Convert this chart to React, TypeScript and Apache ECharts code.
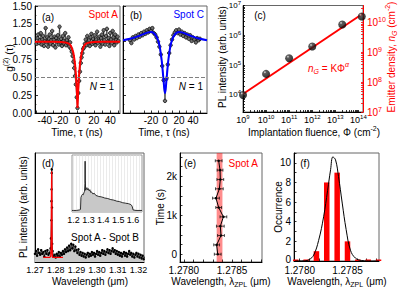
import React, { useEffect, useRef } from "react";
import * as echarts from "echarts";

const FONT = '"Liberation Sans", Arial, Helvetica, sans-serif';
const RED = "#ff0000";
const BLUE = "#0000ff";

// ---------- (a) g2, Spot A ----------
const aTauStart = -50; // ns, 1 ns bins
const aG2 = [
  0.97, 1.05, 1.1, 0.98, 1.02, 1.12, 0.96, 1.03, 1.08, 0.94,
  1.01, 1.19, 0.99, 1.06, 0.93, 1.04, 1.1, 0.97, 1.02, 1.15,
  0.95, 1.03, 1.07, 0.92, 1.05, 1.0, 1.09, 0.96, 1.21, 0.99,
  1.04, 0.94, 1.08, 1.01, 0.97, 1.12, 0.95, 1.02, 0.98, 1.06,
  0.93, 0.99, 0.9, 0.86, 0.8, 0.72, 0.63, 0.52, 0.4, 0.22,
  0.07,
  0.28, 0.45, 0.58, 0.7, 0.78, 0.84, 0.9, 0.92, 0.97, 1.03,
  0.95, 1.08, 0.99, 1.02, 0.94, 1.06, 1.11, 0.97, 1.04, 0.99,
  1.09, 0.95, 1.03, 1.14, 0.98, 1.01, 1.07, 0.93, 1.05, 1.1,
  0.97, 1.16, 1.02, 0.96, 1.08, 1.18, 1.0, 1.05, 0.94, 1.12,
  1.03, 0.98, 1.15, 1.06, 0.95, 1.1, 1.02, 0.99, 1.07, 1.01,
];
const aFitTau = [-52, -30, -20, -15, -12, -10, -8, -6, -5, -4, -3, -2, -1.5, -1, -0.5, 0, 0.5, 1, 1.5, 2, 3, 4, 5, 6, 8, 10, 12, 15, 20, 30, 52];
const aFitG2 = [1.0, 1.0, 0.995, 0.99, 0.98, 0.97, 0.94, 0.88, 0.84, 0.77, 0.68, 0.55, 0.46, 0.35, 0.22, 0.07, 0.22, 0.35, 0.46, 0.55, 0.68, 0.77, 0.84, 0.88, 0.94, 0.97, 0.98, 0.99, 0.995, 1.0, 1.0];

// ---------- (b) g2, Spot C ----------
const bTauStart = -50;
const bTauStep = 2;
const bG2 = [
  1.02, 0.98, 1.06, 1.03, 1.08, 1.05, 1.1, 1.07, 1.12, 1.09,
  1.14, 1.11, 1.16, 1.13, 1.18, 1.15, 1.19, 1.12, 1.1, 1.06,
  1.0, 0.93, 0.82, 0.66, 0.46,
  0.17,
  0.48, 0.68, 0.84, 0.95, 1.03, 1.09, 1.13, 1.16, 1.12, 1.17,
  1.1, 1.14, 1.08, 1.12, 1.06, 1.1, 1.04, 1.09, 1.01, 1.06,
  1.03, 0.99, 1.05, 1.02, 1.04,
];
const bFitTau = [-60, -50, -40, -30, -24, -20, -16, -12, -9, -7, -5, -4, -3, -2, -1, 0, 1, 2, 3, 4, 5, 7, 9, 12, 16, 20, 24, 30, 40, 50, 60];
const bFitG2 = [1.02, 1.04, 1.07, 1.11, 1.13, 1.135, 1.12, 1.07, 0.99, 0.9, 0.76, 0.67, 0.56, 0.45, 0.34, 0.28, 0.34, 0.45, 0.56, 0.67, 0.76, 0.9, 0.99, 1.07, 1.12, 1.135, 1.13, 1.11, 1.07, 1.04, 1.02];

// ---------- (c) PL vs fluence ----------
const cFluence = [1e9, 1e10, 1e11, 1e12, 2e13, 1.4e14];
const cPL = [1.0e4, 5.1e4, 1.7e5, 4.2e5, 2.3e6, 4.3e6];
const cFitFluence = [1e9, 1.585e14];
const cFitDensity = [4e7, 2e10];

// ---------- (d) spectrum Spot A - Spot B ----------
const dStart = 1.27;
const dStep = 0.0005;
const dIntensity = [
  0.09, 0.12, 0.07, 0.14, 0.1, 0.08, 0.13, 0.09, 0.11, 0.06,
  0.12, 0.09, 0.13, 0.08, 0.1, 0.15, 0.8, 0.12, 0.06, 0.08,
  0.05, 0.09, 0.07, 0.11, 0.06, 0.1, 0.08, 0.12, 0.09, 0.14,
  0.11, 0.16, 0.12, 0.18, 0.13, 0.2, 0.15, 0.19, 0.12, 0.17,
  0.13, 0.1, 0.14, 0.08, 0.11, 0.07, 0.1, 0.06, 0.09, 0.05,
  0.08, 0.1, 0.06, 0.09, 0.07, 0.11, 0.08, 0.1, 0.06, 0.09,
  0.12, 0.08, 0.11, 0.07, 0.1, 0.13, 0.09, 0.12, 0.08, 0.11,
  0.14, 0.1, 0.13, 0.09, 0.12, 0.15, 0.11, 0.13, 0.09, 0.12,
  0.08, 0.11, 0.07, 0.1, 0.06, 0.09, 0.11, 0.07, 0.1, 0.06,
  0.09, 0.12, 0.08, 0.1, 0.06, 0.09, 0.05, 0.08, 0.1, 0.06,
  0.09, 0.05, 0.08, 0.04, 0.07, 0.03, 0.06,
];
const dPeakLambda = [1.2777, 1.2779, 1.27795, 1.27805, 1.2781, 1.2782, 1.2783];
const dPeakIntensity = [0.26, 0.46, 0.67, 0.98, 1.02, 0.6, 0.2];
const dFitLambda = [1.274, 1.277, 1.2776, 1.2778, 1.2779, 1.278, 1.27805, 1.2781, 1.27815, 1.2782, 1.2783, 1.2785, 1.2835];
const dFitIntensity = [0.05, 0.05, 0.06, 0.15, 0.45, 0.85, 1.0, 0.95, 0.7, 0.35, 0.1, 0.05, 0.05];

// inset
const insetLambda = [1.19, 1.2, 1.22, 1.24, 1.247, 1.25, 1.255, 1.26, 1.265, 1.27, 1.274, 1.277, 1.278, 1.279, 1.282, 1.286, 1.29, 1.295, 1.3, 1.305, 1.31, 1.315, 1.32, 1.33, 1.34, 1.35, 1.37, 1.39, 1.41, 1.43, 1.45, 1.47, 1.49, 1.51, 1.53, 1.55, 1.57, 1.58, 1.59, 1.595, 1.6, 1.62, 1.66];
const insetIntensity = [0.03, 0.03, 0.03, 0.04, 0.05, 0.28, 0.32, 0.34, 0.33, 0.37, 0.4, 0.55, 0.98, 0.6, 0.42, 0.45, 0.47, 0.43, 0.45, 0.41, 0.43, 0.38, 0.39, 0.35, 0.36, 0.32, 0.3, 0.29, 0.27, 0.26, 0.24, 0.23, 0.21, 0.2, 0.18, 0.17, 0.16, 0.15, 0.13, 0.1, 0.04, 0.03, 0.03];

// ---------- (e) ZPL vs time ----------
const eTime = [0, 240, 480, 720, 960, 1200, 1440, 1680, 1920, 2160, 2400];
const eLambda = [1.278351, 1.27834, 1.278385, 1.278378, 1.27841, 1.278361, 1.278333, 1.278368, 1.278378, 1.278375, 1.278361];
const eErr = [0.000035, 0.00003, 0.000035, 0.00004, 0.000035, 0.00003, 0.000035, 0.00004, 0.000035, 0.00003, 0.000035];
const eBand = [1.27834, 1.2784];
const eCenter = 1.27837;

// ---------- (f) histogram ----------
const fLambda = [1.277958, 1.278067, 1.278175, 1.278283, 1.278392, 1.2785, 1.278608, 1.278717, 1.278825];
const fCount = [0, 0, 1, 8, 9, 2, 0, 0, 0];
const fFitLambda = [1.27795, 1.27805, 1.2781, 1.278146, 1.278198, 1.27825, 1.278292, 1.278323, 1.278347, 1.278375, 1.278406, 1.278445, 1.278486, 1.278531, 1.278583, 1.27865, 1.27875, 1.27883];
const fFitCount = [0, 0.02, 0.15, 0.6, 2.1, 4.5, 7.2, 9.3, 10.6, 10.3, 8.6, 5.9, 3.2, 1.1, 0.3, 0.05, 0, 0];

// ---------- helpers ----------
function axis(o: any): any {
  const base: any = {
    type: "value",
    axisLine: { show: true, onZero: false, lineStyle: { color: "#000", width: 1 } },
    axisTick: { show: true, inside: true, length: 3, lineStyle: { color: "#000", width: 0.8 } },
    axisLabel: { show: true, fontSize: 10, fontFamily: FONT, color: "#000", margin: 3 },
    splitLine: { show: false },
  };
  return {
    ...base,
    ...o,
    axisLine: { ...base.axisLine, ...(o.axisLine || {}) },
    axisTick: { ...base.axisTick, ...(o.axisTick || {}) },
    axisLabel: { ...base.axisLabel, ...(o.axisLabel || {}) },
    splitLine: { ...base.splitLine, ...(o.splitLine || {}) },
  };
}

function decadeTicks(lo: number, hi: number): number[] {
  const out: number[] = [];
  for (let e = Math.floor(Math.log10(lo)); e <= Math.ceil(Math.log10(hi)); e++) {
    for (let m = 1; m <= 9; m++) {
      const v = m * Math.pow(10, e);
      if (v >= lo && v <= hi) out.push(v);
    }
  }
  return out;
}

function logRich(color: string, size: number) {
  const sm = Math.round(size * 0.7);
  return {
    b: { fontSize: size, fontFamily: FONT, color, lineHeight: size + 3 },
    s: { fontSize: sm, fontFamily: FONT, color, lineHeight: sm + 1, verticalAlign: "top" },
  };
}
const logFmt = (v: number) => `{b|10}{s|${Math.round(Math.log10(v))}}`;

function T(x: number, y: number, text: string, o: any = {}) {
  const size = o.size ?? 10;
  const color = o.color ?? "#000";
  const sm = Math.round(size * 0.7);
  const rich: any = {
    n: { fontSize: size, fontFamily: FONT, fill: color, lineHeight: size + 4 },
    i: { fontSize: size, fontFamily: FONT, fill: color, fontStyle: "italic", lineHeight: size + 4 },
    sup: { fontSize: sm, fontFamily: FONT, fill: color, lineHeight: sm + 1, verticalAlign: "top" },
    isup: { fontSize: sm, fontFamily: FONT, fill: color, fontStyle: "italic", lineHeight: sm + 1, verticalAlign: "top" },
    sub: { fontSize: sm, fontFamily: FONT, fill: color, lineHeight: sm + 1, verticalAlign: "bottom" },
    isub: { fontSize: sm, fontFamily: FONT, fill: color, fontStyle: "italic", lineHeight: sm + 1, verticalAlign: "bottom" },
  };
  return {
    type: "text",
    x,
    y,
    rotation: o.rot ?? 0,
    z: 100,
    silent: true,
    style: {
      text,
      fill: color,
      fontSize: size,
      fontFamily: FONT,
      align: o.align ?? "center",
      verticalAlign: "middle",
      rich,
    },
  };
}

function buildOption(): any {
  const aData = aG2.map((g, i) => [aTauStart + i, g]);
  const bData = bG2.map((g, i) => [bTauStart + i * bTauStep, g]);
  const dCoarse = dIntensity.map((v, i) => [+(dStart + i * dStep).toFixed(4), v]);
  const dData = dCoarse
    .concat(dPeakLambda.map((l, i) => [l, dPeakIntensity[i]]))
    .sort((p, q) => p[0] - q[0]);

  const frame = { show: true, borderColor: "#666", borderWidth: 1, backgroundColor: "transparent" };
  const cXmin = 1e9, cXmax = 1.585e14;
  const cYLmin = 2690, cYLmax = 1e7;
  const cYRmin = 1e7, cYRmax = 3.7e10;

  return {
    animation: false,
    backgroundColor: "#fff",
    textStyle: { fontFamily: FONT },
    grid: [
      { left: 35, top: 6, width: 85, height: 107, ...frame },
      { left: 123, top: 6, width: 84, height: 107, ...frame },
      { left: 243, top: 5, width: 120, height: 107, ...frame },
      { left: 35, top: 153, width: 109, height: 109, ...frame },
      { left: 72, top: 155, width: 70, height: 57, ...frame, borderColor: "#999" },
      { left: 180, top: 153, width: 82, height: 109, ...frame },
      { left: 294, top: 153, width: 85, height: 108, ...frame },
    ],
    xAxis: [
      axis({
        gridIndex: 0, min: -52, max: 52,
        axisTick: { customValues: [-50, -40, -30, -20, -10, 0, 10, 20, 30, 40, 50], length: 2.5 },
        axisLabel: { customValues: [-40, -20, 0, 20, 40], margin: 2 },
      }),
      axis({
        gridIndex: 1, min: -60, max: 60,
        axisTick: { customValues: [-50, -40, -30, -20, -10, 0, 10, 20, 30, 40, 50], length: 2.5 },
        axisLabel: { customValues: [-40, -20, 0, 20, 40], margin: 2 },
      }),
      axis({
        gridIndex: 2, type: "log", logBase: 10, min: cXmin, max: cXmax,
        axisTick: { customValues: decadeTicks(cXmin, cXmax), length: 2 },
        axisLabel: { customValues: [1e9, 1e10, 1e11, 1e12, 1e13, 1e14], formatter: logFmt, rich: logRich("#000", 9), margin: 2 },
      }),
      axis({
        gridIndex: 3, min: 1.27, max: 1.32266,
        axisTick: { customValues: [1.27, 1.275, 1.28, 1.285, 1.29, 1.295, 1.3, 1.305, 1.31, 1.315, 1.32], length: 2.5 },
        axisLabel: { customValues: [1.27, 1.28, 1.29, 1.3, 1.31, 1.32], formatter: (v: number) => v.toFixed(2), fontSize: 9, margin: 3 },
      }),
      axis({
        gridIndex: 4, min: 1.19, max: 1.66,
        axisLine: { show: false },
        axisTick: { show: false, customValues: [1.2, 1.22, 1.24, 1.26, 1.28, 1.3, 1.32, 1.34, 1.36, 1.38, 1.4, 1.42, 1.44, 1.46, 1.48, 1.5, 1.52, 1.54, 1.56, 1.58, 1.6, 1.62, 1.64] },
        splitLine: { show: true, lineStyle: { color: "#ddd", width: 0.6 } },
        axisLabel: { customValues: [1.2, 1.3, 1.4, 1.5, 1.6], formatter: (v: number) => v.toFixed(1), fontSize: 9, margin: 3 },
      }),
      axis({
        gridIndex: 5, min: 1.27796, max: 1.27881,
        axisTick: { customValues: [1.278, 1.2781, 1.2782, 1.2783, 1.2784, 1.2785, 1.2786, 1.2787, 1.2788], length: 2.5 },
        axisLabel: { customValues: [1.278, 1.2785], formatter: (v: number) => v.toFixed(4), margin: 3 },
      }),
      axis({
        gridIndex: 6, min: 1.27794, max: 1.27883,
        axisTick: { customValues: [1.278, 1.2781, 1.2782, 1.2783, 1.2784, 1.2785, 1.2786, 1.2787, 1.2788], length: 2.5 },
        axisLabel: { customValues: [1.278, 1.2785], formatter: (v: number) => v.toFixed(4), margin: 4 },
      }),
    ],
    yAxis: [
      axis({
        gridIndex: 0, min: 0, max: 1.5, interval: 0.25,
        minorTick: { show: true, splitNumber: 2, length: 1.5, lineStyle: { color: "#000", width: 0.6 } },
        axisLabel: { formatter: (v: number) => v.toFixed(2) },
      }),
      axis({
        gridIndex: 1, min: 0, max: 1.5, interval: 0.25,
        minorTick: { show: true, splitNumber: 2, length: 1.5, lineStyle: { color: "#000", width: 0.6 } },
        axisLabel: { show: false },
      }),
      axis({
        gridIndex: 2, type: "log", logBase: 10, min: cYLmin, max: cYLmax,
        axisTick: { customValues: decadeTicks(cYLmin, cYLmax), length: 2 },
        axisLabel: { customValues: [1e4, 1e5, 1e6, 1e7], formatter: logFmt, rich: logRich("#000", 8), margin: 2 },
      }),
      axis({
        gridIndex: 2, type: "log", logBase: 10, position: "right", min: cYRmin, max: cYRmax,
        axisLine: { lineStyle: { color: RED, width: 1 } },
        axisTick: { customValues: decadeTicks(cYRmin, cYRmax), length: 2, lineStyle: { color: RED, width: 0.8 } },
        axisLabel: { customValues: [1e7, 1e8, 1e9, 1e10], formatter: logFmt, rich: logRich(RED, 10), color: RED, margin: 4 },
      }),
      axis({
        gridIndex: 3, min: 0, max: 1.2,
        axisTick: { show: false },
        axisLabel: { show: false },
      }),
      axis({
        gridIndex: 4, min: 0, max: 1.1,
        axisLine: { show: false },
        axisTick: { show: false },
        axisLabel: { show: false },
      }),
      axis({
        gridIndex: 5, min: -200, max: 2600,
        axisTick: { customValues: [0, 250, 500, 750, 1000, 1250, 1500, 1750, 2000, 2250, 2500], length: 2.5 },
        axisLabel: { customValues: [0, 1000, 2000], formatter: (v: number) => (v === 0 ? "0" : `${v / 1000}k`) },
      }),
      axis({
        gridIndex: 6, min: 0, max: 11,
        axisTick: { customValues: [0, 1, 2, 3, 4, 5, 6, 7, 8, 9, 10, 11], length: 2.5 },
        axisLabel: {
          customValues: [0, 2, 4, 6, 8, 10],
          formatter: (v: number) => (v === 0 ? "{z|0}" : `${v}`),
          rich: { z: { fontSize: 10, fontFamily: FONT, color: "#000", padding: [0, 0, 4, 0] } },
        },
      }),
    ],
    series: [
      // (a)
      {
        type: "line", xAxisIndex: 0, yAxisIndex: 0, data: aData,
        symbol: "circle", symbolSize: 3.5, showSymbol: true,
        lineStyle: { color: "#000", width: 0.6 },
        itemStyle: { color: "#707070", borderColor: "#000", borderWidth: 0.7 },
        z: 3,
        markLine: {
          silent: true, symbol: "none", label: { show: false },
          lineStyle: { color: "#808080", type: "dashed", width: 1 },
          data: [{ yAxis: 0.5 }],
        },
      },
      {
        type: "line", xAxisIndex: 0, yAxisIndex: 0,
        data: aFitTau.map((t, i) => [t, aFitG2[i]]),
        symbol: "none", lineStyle: { color: RED, width: 2 }, z: 4,
      },
      // (b)
      {
        type: "line", xAxisIndex: 1, yAxisIndex: 1, data: bData,
        symbol: "circle", symbolSize: 3.5, showSymbol: true,
        lineStyle: { color: "#000", width: 0.6 },
        itemStyle: { color: "#707070", borderColor: "#000", borderWidth: 0.7 },
        z: 3,
        markLine: {
          silent: true, symbol: "none", label: { show: false },
          lineStyle: { color: "#808080", type: "dashed", width: 1 },
          data: [{ yAxis: 0.5 }],
        },
      },
      {
        type: "line", xAxisIndex: 1, yAxisIndex: 1,
        data: bFitTau.map((t, i) => [t, bFitG2[i]]),
        symbol: "none", smooth: 0.3, lineStyle: { color: BLUE, width: 2 }, z: 4,
      },
      // (c)
      {
        type: "line", xAxisIndex: 2, yAxisIndex: 3,
        data: cFitFluence.map((f, i) => [f, cFitDensity[i]]),
        symbol: "none", lineStyle: { color: RED, width: 2 }, z: 3,
      },
      {
        type: "scatter", xAxisIndex: 2, yAxisIndex: 2,
        data: cFluence.map((f, i) => [f, cPL[i]]),
        symbol: "circle", symbolSize: 8,
        itemStyle: {
          color: new echarts.graphic.RadialGradient(0.35, 0.3, 0.7, [
            { offset: 0, color: "#e0e0e0" },
            { offset: 0.25, color: "#333" },
            { offset: 1, color: "#000" },
          ]),
        },
        z: 5,
      },
      // (d)
      {
        type: "line", xAxisIndex: 3, yAxisIndex: 4, data: dData,
        symbol: "circle", symbolSize: 2.5, showSymbol: true,
        lineStyle: { color: "#000", width: 0.8 },
        itemStyle: { color: "#000" },
        areaStyle: { color: "#c8c8c8", opacity: 1 },
        z: 3,
      },
      {
        type: "line", xAxisIndex: 3, yAxisIndex: 4,
        data: dFitLambda.map((l, i) => [l, dFitIntensity[i]]),
        symbol: "none", lineStyle: { color: RED, width: 1.3 }, z: 4,
      },
      {
        type: "line", xAxisIndex: 4, yAxisIndex: 5,
        data: insetLambda.map((l, i) => [l, insetIntensity[i]]),
        symbol: "none", lineStyle: { color: "#000", width: 0.8 },
        areaStyle: { color: "#c8c8c8", opacity: 1 }, z: 3,
      },
      // (e)
      {
        type: "line", xAxisIndex: 5, yAxisIndex: 6,
        data: eTime.map((t, i) => [eLambda[i], t]),
        symbol: "circle", symbolSize: 2.5, showSymbol: true,
        lineStyle: { color: "#000", width: 1 },
        itemStyle: { color: "#000" },
        z: 5,
        markArea: {
          silent: true,
          itemStyle: { color: "rgba(255,0,0,0.45)" },
          data: [[{ xAxis: eBand[0] }, { xAxis: eBand[1] }]],
        },
        markLine: {
          silent: true, symbol: "none", label: { show: false },
          lineStyle: { color: RED, type: "solid", width: 1.4 },
          data: [{ xAxis: eCenter }],
        },
      },
      {
        type: "custom", xAxisIndex: 5, yAxisIndex: 6,
        data: eTime.map((t, i) => [eLambda[i], t, eErr[i]]),
        encode: { x: 0, y: 1 },
        z: 6,
        renderItem: (params: any, api: any) => {
          const x = api.value(0);
          const y = api.value(1);
          const e = api.value(2);
          const p1 = api.coord([x - e, y]);
          const p2 = api.coord([x + e, y]);
          const st = { stroke: "#000", lineWidth: 0.7 };
          return {
            type: "group",
            children: [
              { type: "line", shape: { x1: p1[0], y1: p1[1], x2: p2[0], y2: p2[1] }, style: st },
              { type: "line", shape: { x1: p1[0], y1: p1[1] - 1.5, x2: p1[0], y2: p1[1] + 1.5 }, style: st },
              { type: "line", shape: { x1: p2[0], y1: p2[1] - 1.5, x2: p2[0], y2: p2[1] + 1.5 }, style: st },
            ],
          };
        },
      },
      // (f)
      {
        type: "bar", xAxisIndex: 6, yAxisIndex: 7,
        data: fLambda.map((l, i) => [l, fCount[i]]),
        barWidth: 5.5, barMinHeight: 1.5,
        itemStyle: { color: RED },
        z: 3,
      },
      {
        type: "line", xAxisIndex: 6, yAxisIndex: 7,
        data: fFitLambda.map((l, i) => [l, fFitCount[i]]),
        symbol: "none", smooth: 0.4, lineStyle: { color: "#000", width: 1 }, z: 4,
      },
    ],
    graphic: [
      // (a)
      T(48, 17, "(a)"),
      T(118, 14, "Spot A", { color: RED, align: "right" }),
      T(114, 86, "{i|N}{n| = 1}", { align: "right" }),
      T(9, 58, "{n|g}{sup|(2)}{n| (τ)}", { rot: Math.PI / 2 }),
      T(77, 132, "Time, τ (ns)"),
      // (b)
      T(136, 15, "(b)"),
      T(204, 14, "Spot C", { color: BLUE, align: "right" }),
      T(203, 86, "{i|N}{n| = 1}", { align: "right" }),
      T(164, 132, "Time, τ (ns)"),
      // (c)
      T(260, 15, "(c)"),
      T(308, 68, "{i|n}{isub|G}{n| = KΦ}{isup|α}", { color: RED, align: "left" }),
      T(314, 132, "{n|Implantation fluence, Φ (cm}{sup|-2}{n|)}"),
      T(222, 57, "PL intensity (arb. units)", { rot: Math.PI / 2 }),
      T(391, 57, "{n|Emitter density, }{i|n}{isub|G}{n| (cm}{sup|-2}{n|)}", { rot: Math.PI / 2, color: RED }),
      // (d)
      T(48, 163, "(d)"),
      T(105, 237, "Spot A - Spot B"),
      T(23, 207, "PL intensity (arb. units)", { rot: Math.PI / 2 }),
      T(90, 281, "Wavelength (μm)"),
      // (e)
      T(190, 163, "(e)"),
      T(258, 163, "Spot A", { color: RED, align: "right" }),
      T(160, 207, "Time (s)", { rot: Math.PI / 2 }),
      T(221, 281, "{n|Wavelength, λ}{sub|ZPL}{n| (μm)}"),
      // (f)
      T(305, 163, "(f)"),
      T(278, 207, "Occurrence", { rot: Math.PI / 2 }),
      T(337, 281, "{n|Wavelength, λ}{sub|ZPL}{n| (μm)}"),
    ],
  };
}

export default function App() {
  const ref = useRef<HTMLDivElement>(null);
  useEffect(() => {
    if (!ref.current) return;
    const chart = echarts.init(ref.current, null, { renderer: "svg", width: 399, height: 289 });
    chart.setOption(buildOption());
    return () => chart.dispose();
  }, []);
  return (
    <div
      ref={ref}
      style={{ position: "fixed", left: 0, top: 0, width: 399, height: 289, background: "#fff" }}
    />
  );
}
